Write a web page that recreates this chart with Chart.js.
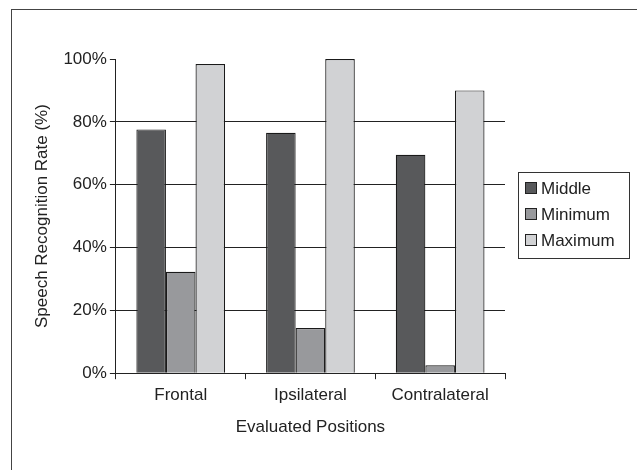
<!DOCTYPE html>
<html>
<head>
<meta charset="utf-8">
<script src="https://cdn.jsdelivr.net/npm/chart.js@4"></script>
<style>
  html, body { margin: 0; padding: 0; background: #fff; }
  #frame { position: absolute; left: 11px; top: 9px; width: 700px; height: 540px; border: 1px solid #444; }
  #wrap { position: absolute; left: 0; top: 0; width: 637px; height: 470px; }
</style>
</head>
<body>
<div id="frame"></div>
<div id="wrap"><canvas id="barChart"></canvas></div>
<script>
  var categories = ["Frontal", "Ipsilateral", "Contralateral"];
  var seriesNames = ["Middle", "Minimum", "Maximum"];
  var middleValues = [77.6, 76.5, 69.5];
  var minimumValues = [32.3, 14.4, 2.5];
  var maximumValues = [98.4, 100, 90];
  var barColors = ["#58595b", "#98999c", "#d1d2d4"];
  var fontFam = "'Liberation Sans', Arial, sans-serif";

  // legend box drawn by hand, like the old Excel one
  var boxLegend = {
    id: "boxLegend",
    afterDraw: function(chart) {
      var ctx = chart.ctx;
      ctx.save();
      ctx.strokeStyle = "#333";
      ctx.lineWidth = 1;
      ctx.strokeRect(518.5, 172.5, 111, 86);
      ctx.font = "17px " + fontFam;
      ctx.textBaseline = "middle";
      for (var i = 0; i < seriesNames.length; i++) {
        var y = 188 + i * 26;
        ctx.fillStyle = barColors[i];
        ctx.fillRect(525, y - 6, 12, 12);
        ctx.strokeStyle = "#222";
        ctx.strokeRect(525.5, y - 5.5, 11, 11);
        ctx.fillStyle = "#222";
        ctx.fillText(seriesNames[i], 541, y + 1);
      }
      ctx.restore();
    }
  };

  var ds = [middleValues, minimumValues, maximumValues].map(function(vals, i) {
    return {
      label: seriesNames[i],
      data: vals,
      backgroundColor: barColors[i],
      borderColor: "#1a1a1a",
      borderWidth: 1.2,
      barPercentage: 1.0,
      categoryPercentage: 0.684
    };
  });

  var barchart = new Chart("barChart", {
    type: "bar",
    data: { labels: categories, datasets: ds },
    plugins: [boxLegend],
    options: {
      responsive: true,
      maintainAspectRatio: false,
      animation: false,
      layout: { padding: { left: 28, right: 132, top: 59, bottom: 28 } },
      plugins: { legend: { display: false }, tooltip: { enabled: false } },
      scales: {
        x: {
          grid: { display: true, drawOnChartArea: false, offset: true, color: "#222", tickLength: 6 },
          border: { color: "#222" },
          ticks: { color: "#222", font: { family: fontFam, size: 17 }, padding: 6 },
          title: { display: true, text: "Evaluated Positions", color: "#222", font: { family: fontFam, size: 17 }, padding: { top: 6 } }
        },
        y: {
          min: 0, max: 100,
          ticks: { stepSize: 20, color: "#222", font: { family: fontFam, size: 17 }, padding: 3,
            callback: function(v) { return v + "%"; } },
          grid: {
            color: function(c) { return (c.tick && (c.tick.value === 100 || c.tick.value === 0)) ? "rgba(0,0,0,0)" : "#222"; },
            tickColor: "#222", tickLength: 6
          },
          border: { color: "#222" },
          title: { display: true, text: "Speech Recognition Rate (%)", color: "#222", font: { family: fontFam, size: 17 }, padding: { bottom: 8 } }
        }
      }
    }
  });
</script>
</body>
</html>
